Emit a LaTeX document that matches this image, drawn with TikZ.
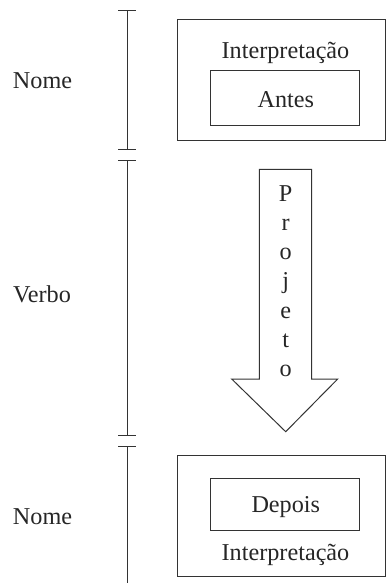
\documentclass[tikz,border=0pt]{standalone}
\usepackage{fontspec}
\setmainfont{Liberation Serif}
\begin{document}
\begin{tikzpicture}[x=1pt,y=-1pt,
  ln/.style={draw=black!80,line width=1pt},
  lbl/.style={anchor=base,inner sep=0pt,font=\fontsize{24.2}{29}\selectfont,text=black!85},
  box/.style={ln,fill=white,inner sep=0pt},
  tick/.style={ln}]
\useasboundingbox (0,0) rectangle (387,583);
% left scale bars
\coordinate (a1) at (127,10.7);
\coordinate (a2) at (127,149.3);
\coordinate (b1) at (127,160);
\coordinate (b2) at (127,435);
\coordinate (c1) at (127,446);
\coordinate (c2) at (127,583);
\draw[ln] (a1) -- (a2);
\draw[ln] (b1) -- (b2);
\draw[ln] (c1) -- (c2);
\foreach \p in {a1,a2,b1,b2,c1}{
  \draw[tick] ([xshift=-9pt]\p) -- ([xshift=9pt]\p);
}
% labels
\node[lbl] (n1) at (42.5,88.5) {Nome};
\node[lbl] (v) at (42,302.3) {Verbo};
\node[lbl] (n2) at (42.5,524) {Nome};
% top box
\draw[ln] (177,20) rectangle (385.5,140.5);
\node[lbl] (i1) at (285.5,58.3) {Interpretação};
\node[box,minimum width=148.6pt,minimum height=54.7pt] (antes) at (285,98.3) {};
\node[lbl] (tantes) at (285.8,107.3) {Antes};
% arrow
\draw[ln] (259.3,169.3) -- (311.7,169.3) -- (311.7,379) -- (337.7,379)
  -- (285.7,431.7) -- (231.7,379) -- (259.3,379) -- cycle;
\foreach \c/\k in {P/0,r/1,o/2,j/3,e/4,t/5,o/6}{
  \node[lbl] (p\k) at (285.7,201+29.3*\k) {\c};
}
% bottom box
\draw[ln] (177,455) rectangle (385.5,576);
\node[box,minimum width=148.6pt,minimum height=52pt] (depois) at (285,504) {};
\node[lbl] (tdepois) at (285.8,512.7) {Depois};
\node[lbl] (i2) at (285.5,560.7) {Interpretação};
\end{tikzpicture}
\end{document}
